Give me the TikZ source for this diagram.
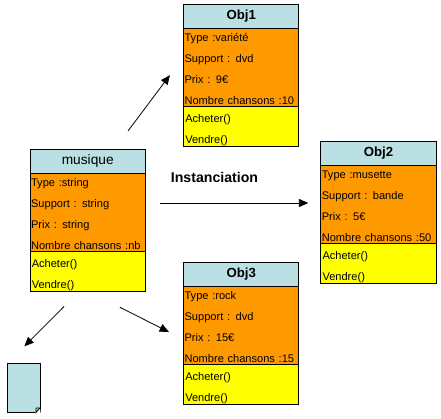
\documentclass[tikz,border=0pt]{standalone}
\usepackage{fontspec,tikz}
\setmainfont{Liberation Sans}
\usetikzlibrary{arrows.meta,positioning,calc}
\definecolor{Head}{HTML}{BBE0E3}
\definecolor{Attr}{HTML}{FF9900}
\definecolor{Meth}{HTML}{FFFF00}
\tikzset{part/.style={draw=black,line width=.75pt,minimum width=86.6pt,outer sep=0pt,inner ysep=0pt},
headbox/.style={part,fill=Head,minimum height=18pt,font=\fontsize{9.9}{12}\selectfont\bfseries},
attrbox/.style={part,fill=Attr,minimum height=58.5pt,text width=85pt,inner xsep=.8pt,align=left,font=\fontsize{8.3}{15.6}\selectfont,
  execute at begin node={\rule{0pt}{10.3pt}},execute at end node={\rule[-1.4pt]{0pt}{1.4pt}}},
methbox/.style={part,fill=Meth,minimum height=30pt,text width=84pt,inner xsep=1.3pt,align=left,font=\fontsize{8.3}{15.6}\selectfont,
  execute at begin node={\rule{0pt}{12.4pt}},execute at end node={\rule[-2pt]{0pt}{2pt}}},
flow/.style={-{Triangle[length=7pt,width=6pt]},line width=.6pt,draw=black},
lab/.style={font=\fontsize{10.6}{12}\selectfont\bfseries}}
\begin{document}
\begin{tikzpicture}[x=.75pt,y=-.75pt]
\useasboundingbox (0,0) rectangle (441,418);
% class
\node[headbox,font=\fontsize{10.3}{12}\selectfont] (musique) at (87.75,161) {musique};
\node[attrbox,below=0pt of musique] (musiqueAttr) {Type :string\\Support : string\\Prix : string\\Nombre chansons :nb};
\node[methbox,below=0pt of musiqueAttr] (musiqueMeth) {Acheter()\\Vendre()};
% objects
\node[headbox] (obj1) at (241.25,16) {Obj1};
\node[attrbox,below=0pt of obj1] (obj1Attr) {Type :variété\\Support : dvd\\Prix : 9€\\Nombre chansons :10};
\node[methbox,below=0pt of obj1Attr] (obj1Meth) {Acheter()\\Vendre()};
\node[headbox] (obj2) at (378.5,153) {Obj2};
\node[attrbox,below=0pt of obj2] (obj2Attr) {Type :musette\\Support : bande\\Prix : 5€\\Nombre chansons :50};
\node[methbox,below=0pt of obj2Attr] (obj2Meth) {Acheter()\\Vendre()};
\node[headbox] (obj3) at (241.25,274) {Obj3};
\node[attrbox,below=0pt of obj3] (obj3Attr) {Type :rock\\Support : dvd\\Prix : 15€\\Nombre chansons :15};
\node[methbox,below=0pt of obj3Attr] (obj3Meth) {Acheter()\\Vendre()};
% document
\node[draw=black,line width=.6pt,fill=Head,minimum width=24.4pt,minimum height=37pt,outer sep=0pt] (doc) at (23.7,388) {};
\fill[white] ([yshift=3.5pt]doc.south east) -- ([xshift=-3.5pt]doc.south east) -- ++(6,6) -- cycle;
\draw[line width=.6pt] ([yshift=3.5pt]doc.south east) -- ++(-4,0) -- ++(0,4.5) -- cycle;
\node[lab] (inst) at (214.5,177) {Instanciation};
\draw[flow,shorten <=17pt,shorten >=17pt] ([xshift=20pt]musique.north) -- ([yshift=7.5pt]obj1Attr.west);
\draw[flow,shorten <=11pt,shorten >=9.4pt] ([yshift=6.75pt]musiqueAttr.east) -- ([yshift=.75pt]obj2Attr.west);
\draw[flow,shorten <=16.4pt,shorten >=18pt] ([xshift=-6.2pt]musiqueMeth.south) -- (doc.north west);
\draw[flow,shorten <=27pt,shorten >=12.2pt] (musiqueMeth.south) -- ([yshift=-10.8pt]obj3Attr.west);
\end{tikzpicture}
\end{document}
